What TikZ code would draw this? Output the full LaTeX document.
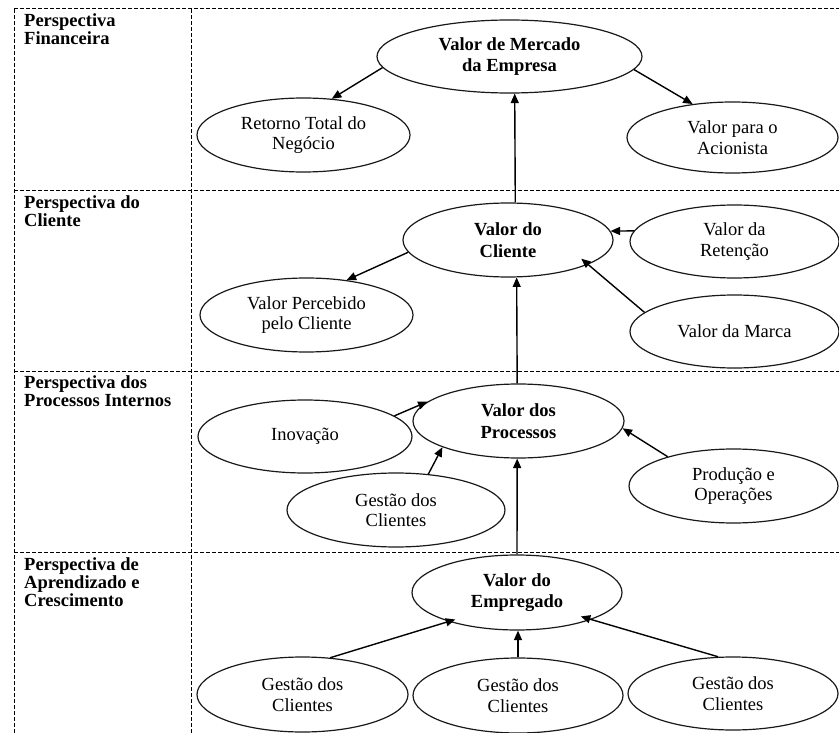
\documentclass[tikz,border=0pt]{standalone}
\usepackage{fontspec}
\setmainfont{Liberation Serif}
\usetikzlibrary{shapes.geometric,arrows.meta}

\begin{document}
\begin{tikzpicture}[x=1pt,y=-1pt,
  grid/.style={draw=black,line width=1pt,dash pattern=on 4pt off 2pt},
  bubble/.style={ellipse,draw=black!90,line width=1.2pt,inner sep=0pt,align=center,
    font=\fontsize{18.5}{20.5}\selectfont},
  keybubble/.style={bubble,font=\fontsize{18.5}{21.5}\selectfont\bfseries},
  rowlabel/.style={anchor=north west,inner sep=0pt,align=left,
    font=\fontsize{18.5}{18.4}\selectfont\bfseries},
  arr/.style={draw=black,line width=1.4pt,-{Triangle[length=9.5pt,width=8pt]}}]

\useasboundingbox (0,0) rectangle (839,733);

% dashed table frame
\draw[grid] (14,9) -- (839,9);
\draw[grid] (14,190.5) -- (839,190.5);
\draw[grid] (14,371.5) -- (839,371.5);
\draw[grid] (14,552) -- (839,552);
\draw[grid] (14,9) -- (14,733);
\draw[grid] (191.5,9) -- (191.5,733);

% row headings
\node[rowlabel] (h1) at (24,13) {Perspectiva\\Financeira};
\node[rowlabel] (h2) at (24,195) {Perspectiva do\\Cliente};
\node[rowlabel] (h3) at (24,375) {Perspectiva dos\\Processos Internos};
\node[rowlabel] (h4) at (24,557) {Perspectiva de\\Aprendizado e\\Crescimento};

% financial perspective
\node[keybubble,minimum width=265pt,minimum height=73pt] (merc) at (509.5,56.5) {Valor de Mercado\\da Empresa};
\node[bubble,minimum width=213pt,minimum height=74pt] (ret) at (303.5,135) {Retorno Total do\\Negócio};
\node[bubble,minimum width=211pt,minimum height=71pt] (acio) at (732.5,137.5) {Valor para o\\Acionista};

% customer perspective
\node[keybubble,minimum width=210pt,minimum height=74pt] (cli) at (508,240) {Valor do\\Cliente};
\node[bubble,minimum width=209pt,minimum height=73pt] (reten) at (734.5,241.5) {Valor da\\Retenção};
\node[bubble,minimum width=213pt,minimum height=74pt] (perc) at (306.5,315) {Valor Percebido\\pelo Cliente};
\node[bubble,minimum width=209pt,minimum height=73pt] (marca) at (734.5,331.5) {Valor da Marca};

% internal processes perspective
\node[keybubble,minimum width=211pt,minimum height=74pt] (proc) at (518.5,421) {Valor dos\\Processos};
\node[bubble,minimum width=214pt,minimum height=73pt] (inov) at (305,436.5) {Inovação};
\node[bubble,minimum width=218pt,minimum height=74pt] (gproc) at (396,510) {Gestão dos\\Clientes};
\node[bubble,minimum width=209pt,minimum height=74pt] (prod) at (733.5,486) {Produção e\\Operações};

% learning and growth perspective
\node[keybubble,minimum width=210pt,minimum height=75pt] (emp) at (517,592.5) {Valor do\\Empregado};
\node[bubble,minimum width=211pt,minimum height=75pt] (gl) at (302.5,694.5) {Gestão dos\\Clientes};
\node[bubble,minimum width=210pt,minimum height=75pt] (gm) at (518,695.5) {Gestão dos\\Clientes};
\node[bubble,minimum width=210pt,minimum height=73pt] (gr) at (733,693.5) {Gestão dos\\Clientes};

% connectors
\draw[arr] (merc.185) -- (ret.52);
\draw[arr] (merc.354) -- (acio.140);
\draw[arr] (cli.79.3) -- (merc.278.6);
\draw[arr] (cli.187.3) -- (perc.41.5);
\draw[arr] (reten.174) -- (cli.5);
\draw[arr,shorten >=-9pt] (marca.168) -- (cli.343);
\draw[arr] (proc.92.3) -- (cli.283.7);
\draw[arr] (inov.13.9) -- (proc.168.5);
\draw[arr] (gproc.48.7) -- (proc.199.4);
\draw[arr] (prod.156.1) -- (proc.356.1);
\draw[arr] (emp.north) -- (proc.268);
\draw[arr,shorten >=-7pt] (gl.53) -- (emp.203.4);
\draw[arr] (gm.north) -- (gm.north |- emp.south);
\draw[arr,shorten >=-11pt] (gr.112.5) -- (emp.340.5);

\end{tikzpicture}
\end{document}
